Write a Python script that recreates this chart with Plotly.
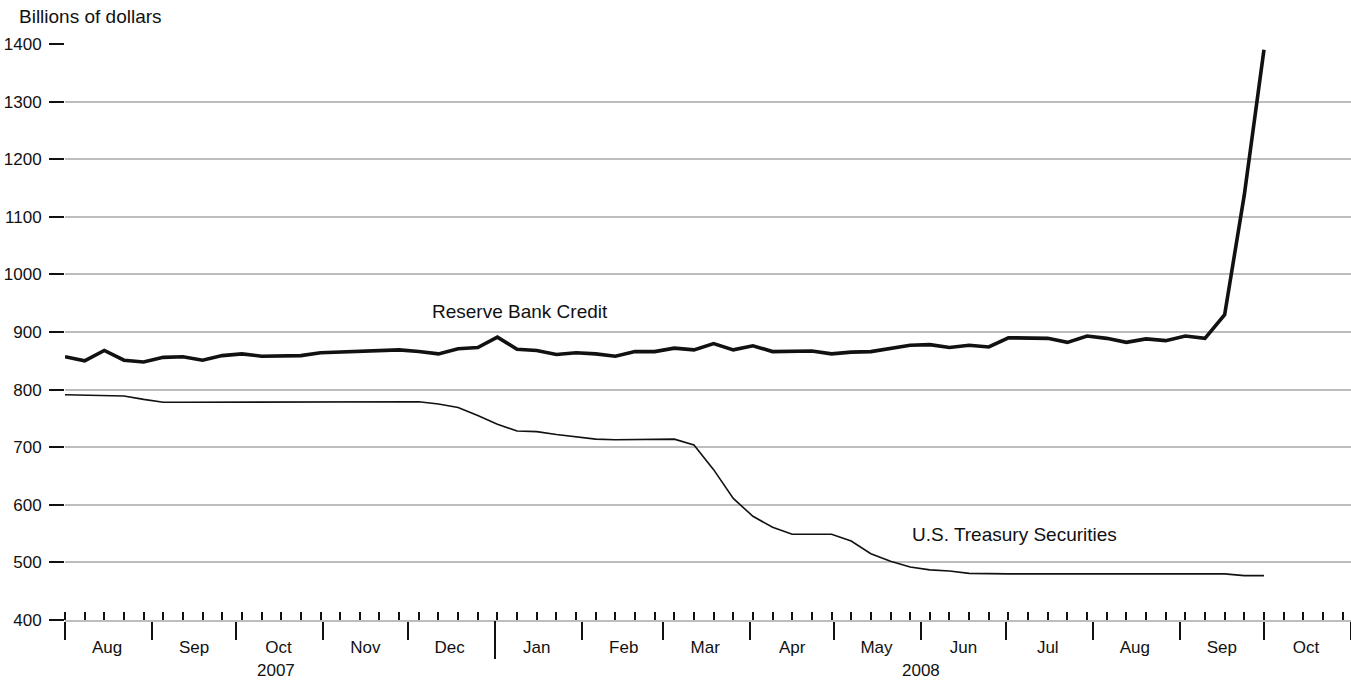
import plotly.graph_objects as go
import pandas as pd

# ---- data (weekly, Wednesday levels, billions of dollars) ----
start_date = "2007-08-01"
n_weeks = 62
dates = pd.date_range(start_date, periods=n_weeks, freq="7D")

reserve_bank_credit = [
    857, 850, 868, 851, 848, 856, 857, 851, 859, 862,
    858, 858, 859, 864, 865, 866, 868, 869, 866, 862,
    871, 873, 891, 870, 868, 861, 864, 862, 858, 866,
    866, 872, 869, 880, 869, 876, 866, 866, 867, 862,
    865, 866, 871, 877, 878, 873, 877, 874, 890, 890,
    889, 882, 893, 889, 882, 888, 885, 893, 889, 930,
    1138, 1390,
]

treasury_securities = [
    791, 790, 789, 789, 783, 778, 778, 778, 778, 778,
    778, 778, 778, 779, 779, 779, 779, 779, 779, 775,
    769, 755, 740, 728, 727, 722, 718, 714, 713, 713,
    713, 714, 704, 661, 611, 580, 561, 549, 549, 549,
    537, 515, 502, 492, 487, 485, 481, 480, 480, 480,
    480, 480, 480, 480, 480, 480, 481, 481, 481, 480,
    477, 477,
]

month_labels = ["Aug", "Sep", "Oct", "Nov", "Dec", "Jan", "Feb", "Mar",
                "Apr", "May", "Jun", "Jul", "Aug", "Sep", "Oct"]
month_starts = pd.date_range("2007-08-01", "2008-11-01", freq="MS")
month_mids = [d + pd.Timedelta(days=15) for d in month_starts[:-1]]
year_labels = ["2007", "2008"]
year_label_pos = ["2007-10-15", "2008-06-01"]
year_boundaries = ["2008-01-01"]
y_ticks = list(range(400, 1401, 100))

FONT = "Liberation Sans, Arial, Helvetica, sans-serif"
INK = "#111111"
GRID = "#bdbdbd"
x_range = ["2007-08-01", "2008-11-01"]

fig = go.Figure()
fig.add_trace(go.Scatter(x=dates, y=reserve_bank_credit, mode="lines",
                         line=dict(color=INK, width=3.6), name="Reserve Bank Credit",
                         showlegend=False))
fig.add_trace(go.Scatter(x=dates, y=treasury_securities, mode="lines",
                         line=dict(color=INK, width=1.6), name="U.S. Treasury Securities",
                         showlegend=False))
# empty helper traces so the overlay axes (month labels, year-boundary tick) are drawn
for ax in ("x2", "x3"):
    fig.add_trace(go.Scatter(x=[x_range[0]], y=[None], xaxis=ax, yaxis="y",
                             mode="lines", showlegend=False, hoverinfo="skip"))

fig.update_layout(
    width=1351, height=687,
    margin=dict(l=65, r=0, t=44, b=67),
    paper_bgcolor="white", plot_bgcolor="white",
    font=dict(family=FONT, size=17, color=INK),
    showlegend=False,
    xaxis=dict(
        type="date", range=x_range, showgrid=False, zeroline=False,
        showline=True, linecolor=GRID, linewidth=2,
        tickmode="array", tickvals=list(month_starts), showticklabels=False,
        ticks="outside", ticklen=18, tickwidth=1.5, tickcolor=INK,
        minor=dict(tickmode="linear", tick0=start_date, dtick=7 * 86400000,
                   ticks="inside", ticklen=8, tickwidth=2, tickcolor=INK,
                   showgrid=False),
    ),
    xaxis2=dict(
        type="date", range=x_range, overlaying="x", anchor="y", side="bottom",
        showgrid=False, zeroline=False, showline=False,
        tickmode="array", tickvals=month_mids, ticktext=month_labels,
        ticks="", ticklabelstandoff=15, tickfont=dict(size=17, color=INK),
    ),
    xaxis3=dict(
        type="date", range=x_range, overlaying="x", anchor="y", side="bottom",
        showgrid=False, zeroline=False, showline=False,
        tickmode="array", tickvals=year_boundaries, showticklabels=False,
        ticks="outside", ticklen=38, tickwidth=1.5, tickcolor=INK,
    ),
    yaxis=dict(
        range=[400, 1400], tickmode="array", tickvals=y_ticks,
        showgrid=True, gridcolor=GRID, gridwidth=2, zeroline=False,
        showline=False, ticks="outside", ticklen=15, tickwidth=2, tickcolor=INK,
        ticklabelstandoff=4, tickfont=dict(size=17, color=INK),
    ),
)

annotations = [
    dict(text="Billions of dollars", xref="paper", yref="paper", x=-0.0373, y=1.047,
         xanchor="left", yanchor="middle", showarrow=False, font=dict(size=19)),
    dict(text="Reserve Bank Credit", xref="paper", yref="paper", x=0.284, y=0.536,
         xanchor="left", yanchor="middle", showarrow=False, font=dict(size=19)),
    dict(text="U.S. Treasury Securities", xref="paper", yref="paper", x=0.657, y=0.148,
         xanchor="left", yanchor="middle", showarrow=False, font=dict(size=19)),
]
for lab, pos in zip(year_labels, year_label_pos):
    annotations.append(dict(text=lab, xref="x", yref="paper", x=pos, y=-0.087,
                            xanchor="center", yanchor="middle", showarrow=False,
                            font=dict(size=17)))
fig.update_layout(annotations=annotations)

fig.write_html("out.html",
               config={"displayModeBar": False},
               post_script="document.body.style.margin='0';"
                           "document.body.style.overflow='hidden';")
